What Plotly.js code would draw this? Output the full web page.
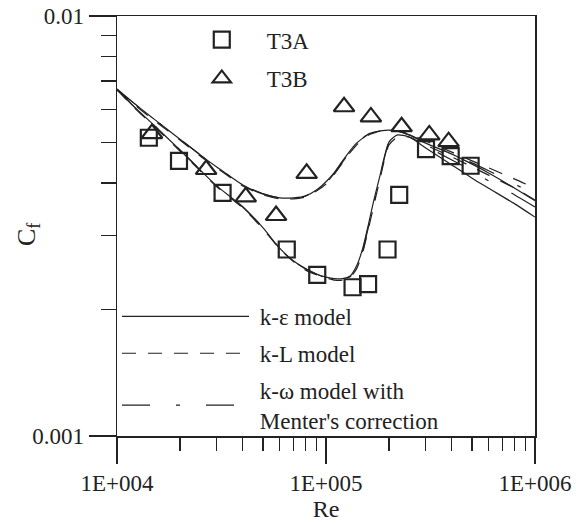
<!DOCTYPE html>
<html>
<head>
<meta charset="utf-8">
<script src="https://cdn.plot.ly/plotly-3.0.1.min.js"></script>
<style>
html,body{margin:0;padding:0;background:#fff;}
#chart{width:576px;height:524px;}
</style>
</head>
<body>
<div id="chart"></div>
<script>
// Reynolds number grid for the model curves
const reGrid = [1e4, 1.2e4, 1.5e4, 2e4, 2.5e4, 3e4, 4e4, 5e4, 6e4, 7e4, 8e4, 9e4, 1e5, 1.1e5, 1.2e5, 1.3e5, 1.4e5, 1.5e5, 1.6e5, 1.7e5, 1.8e5, 2e5, 2.2e5, 2.5e5, 3e5, 4e5, 5e5, 6e5, 8e5, 1e6];

// T3B-case predictions (early transition)
const cfKeB = [0.00670, 0.00621, 0.00569, 0.00509, 0.00467, 0.00437, 0.00396, 0.00377, 0.00369, 0.00369, 0.00373, 0.00385, 0.00403, 0.00425, 0.00452, 0.00477, 0.00498, 0.00512, 0.00524, 0.00529, 0.00532, 0.00535, 0.00532, 0.00521, 0.00498, 0.00469, 0.00444, 0.00423, 0.00389, 0.00363];
const cfKlB = [0.00667, 0.00617, 0.00565, 0.00507, 0.00464, 0.00435, 0.00394, 0.00375, 0.00367, 0.00367, 0.00371, 0.00383, 0.00398, 0.00421, 0.00447, 0.00472, 0.00493, 0.00509, 0.00521, 0.00527, 0.00532, 0.00535, 0.00532, 0.00524, 0.00504, 0.00474, 0.00452, 0.00435, 0.00409, 0.00389];
const cfKwB = [0.00667, 0.00621, 0.00569, 0.00509, 0.00467, 0.00437, 0.00396, 0.00377, 0.00369, 0.00369, 0.00373, 0.00383, 0.00400, 0.00423, 0.00449, 0.00474, 0.00496, 0.00512, 0.00524, 0.00529, 0.00532, 0.00535, 0.00532, 0.00521, 0.00501, 0.00469, 0.00447, 0.00428, 0.00398, 0.00375];

// T3A-case predictions (late transition)
const cfKeA = [0.00670, 0.00610, 0.00550, 0.00480, 0.00430, 0.00394, 0.00351, 0.00313, 0.00280, 0.00261, 0.00250, 0.00243, 0.00239, 0.00237, 0.00237, 0.00240, 0.00254, 0.00280, 0.00321, 0.00367, 0.00411, 0.00501, 0.00521, 0.00515, 0.00485, 0.00442, 0.00411, 0.00389, 0.00357, 0.00332];
const cfKlA = [0.00667, 0.00607, 0.00547, 0.00477, 0.00428, 0.00392, 0.00349, 0.00311, 0.00279, 0.00260, 0.00248, 0.00242, 0.00238, 0.00235, 0.00235, 0.00238, 0.00250, 0.00274, 0.00313, 0.00357, 0.00403, 0.00493, 0.00515, 0.00515, 0.00493, 0.00462, 0.00437, 0.00418, 0.00389, 0.00365];
const cfKwA = [0.00670, 0.00610, 0.00550, 0.00480, 0.00430, 0.00394, 0.00351, 0.00313, 0.00280, 0.00261, 0.00250, 0.00243, 0.00238, 0.00235, 0.00237, 0.00239, 0.00251, 0.00277, 0.00316, 0.00361, 0.00407, 0.00498, 0.00518, 0.00515, 0.00490, 0.00454, 0.00428, 0.00405, 0.00375, 0.00351];

// Experimental data
const t3aRe = [1.42e4, 1.98e4, 3.2e4, 6.49e4, 9.08e4, 1.34e5, 1.59e5, 1.97e5, 2.24e5, 3.01e5, 3.95e5, 4.92e5];
const t3aCf = [0.00513, 0.00452, 0.00379, 0.00278, 0.00242, 0.00226, 0.00230, 0.00278, 0.00375, 0.00482, 0.00464, 0.00440];
const t3bRe = [1.47e4, 2.67e4, 4.13e4, 5.77e4, 8.08e4, 1.22e5, 1.64e5, 2.3e5, 3.12e5, 3.86e5];
const t3bCf = [0.00525, 0.00431, 0.00371, 0.00335, 0.00422, 0.00608, 0.00575, 0.00545, 0.00521, 0.00502];

const xTickVals = [1e4, 1e5, 1e6];
const xTickText = ['1E+004', '1E+005', '1E+006'];
const yTickVals = [0.001, 0.01];
const yTickText = ['0.001', '0.01'];
const modelNames = ['\u00a0k-ε model', '\u00a0k-L model', "\u00a0k-ω model with<br>\u00a0Menter's correction"];
const seriesNames = ['T3A', 'T3B'];
const yTitle = 'C<sub>f</sub>';

const ink = '#222';
const FONT = 'Liberation Serif, Times New Roman, serif';
const dashes = ['solid', '14px,12px', '28px,26px,4px,26px'];
const groups = ['ke', 'kl', 'kw'];

function curve(y, i, show) {
  return {
    x: reGrid, y: y, type: 'scatter', mode: 'lines',
    name: modelNames[i], legend: 'legend2', legendgroup: groups[i],
    showlegend: show,
    line: {color: ink, width: 1.2, dash: dashes[i], shape: 'spline', smoothing: 0.6},
    hoverinfo: 'skip'
  };
}

const data = [
  curve(cfKeA, 0, true), curve(cfKlA, 1, true), curve(cfKwA, 2, true),
  curve(cfKeB, 0, false), curve(cfKlB, 1, false), curve(cfKwB, 2, false),
  {x: t3aRe, y: t3aCf, type: 'scatter', mode: 'markers', name: seriesNames[0],
   legend: 'legend', legendgroup: 'a',
   marker: {symbol: 'square-open', size: 16, color: ink, line: {color: ink, width: 2.2}}},
  {x: t3bRe, y: t3bCf, type: 'scatter', mode: 'markers', name: seriesNames[1],
   legend: 'legend', legendgroup: 'b',
   marker: {symbol: 'triangle-up-open', size: 18, color: ink, line: {color: ink, width: 2.2}}}
];

const layout = {
  width: 576, height: 524,
  margin: {l: 117, r: 41, t: 16, b: 88},
  paper_bgcolor: '#fff', plot_bgcolor: '#fff',
  font: {family: FONT, size: 23, color: ink},
  showlegend: true,
  xaxis: {
    type: 'log', range: [4, 6],
    tickmode: 'array', tickvals: xTickVals, ticktext: xTickText,
    ticks: 'outside', ticklen: 26, tickwidth: 1.3, tickcolor: ink,
    minor: {ticks: 'outside', ticklen: 13, tickwidth: 1.3, tickcolor: ink, dtick: 'D1', showgrid: false},
    showline: true, linecolor: ink, linewidth: 1.5, mirror: true,
    showgrid: false, zeroline: false,
    tickfont: {family: FONT, size: 23, color: ink},
    title: {text: 'Re', font: {family: FONT, size: 24, color: ink}, standoff: 0}
  },
  yaxis: {
    type: 'log', range: [-3, -2],
    tickmode: 'array', tickvals: yTickVals, ticktext: yTickText,
    ticks: 'outside', ticklen: 27, tickwidth: 1.3, tickcolor: ink,
    minor: {ticks: 'outside', ticklen: 15, tickwidth: 1.3, tickcolor: ink, dtick: 'D1', showgrid: false},
    showline: true, linecolor: ink, linewidth: 1.5, mirror: true,
    showgrid: false, zeroline: false,
    tickfont: {family: FONT, size: 23, color: ink}
  },
  annotations: [{
    text: yTitle, xref: 'paper', yref: 'paper',
    x: (28 - 117) / 418, y: 1 - (234 - 16) / 420,
    xanchor: 'center', yanchor: 'middle', textangle: -90, showarrow: false,
    font: {family: FONT, size: 26, color: ink}
  }],
  legend: {
    x: 0.143, xanchor: 'left', y: 0.995, yanchor: 'top',
    bgcolor: 'rgba(0,0,0,0)', borderwidth: 0,
    font: {family: FONT, size: 23, color: ink},
    itemwidth: 80, tracegroupgap: 6
  },
  legend2: {
    x: 0.0, xanchor: 'left', y: 0.336, yanchor: 'top',
    bgcolor: 'rgba(0,0,0,0)', borderwidth: 0,
    font: {family: FONT, size: 23, color: ink},
    itemwidth: 127, tracegroupgap: 4
  }
};

Plotly.newPlot('chart', data, layout, {displayModeBar: false, staticPlot: true});
</script>
</body>
</html>
